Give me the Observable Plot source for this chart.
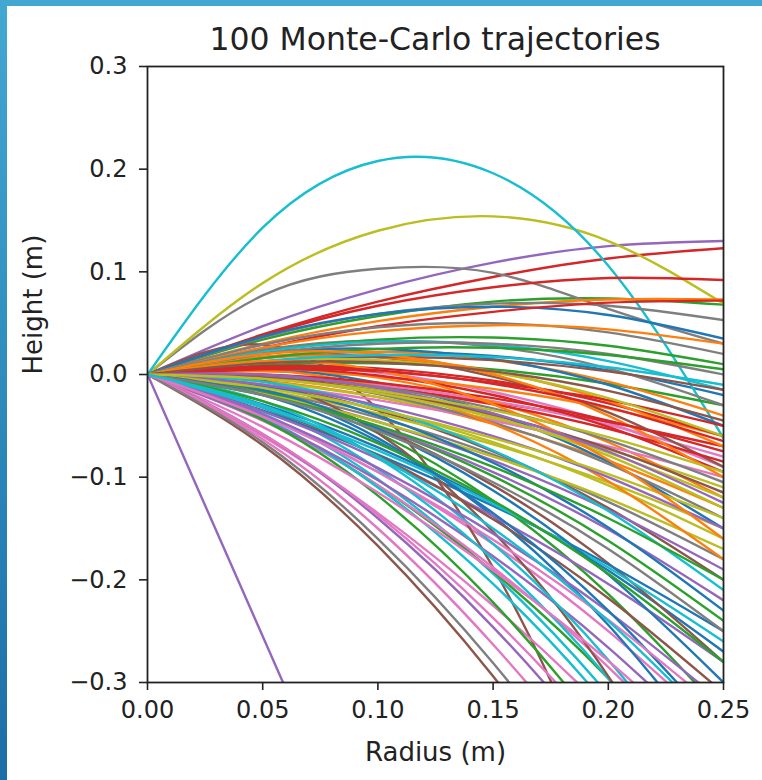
<!DOCTYPE html>
<html><head><meta charset="utf-8">
<script src="https://cdn.jsdelivr.net/npm/d3@7"></script>
<script src="https://cdn.jsdelivr.net/npm/@observablehq/plot@0.6"></script>
<style>
html,body{margin:0;padding:0;background:#fff;}
#page{position:relative;width:762px;height:780px;overflow:hidden;background:#fff;font-family:"DejaVu Sans",sans-serif;}
#topbar{position:absolute;left:0;top:0;width:762px;height:6px;background:#42a8d2;}
#leftbar{position:absolute;left:0;top:0;width:7px;height:780px;background:linear-gradient(#42a8d2,#1b6ea6);}
#title{height:33px;padding-top:24px;padding-left:108px;text-align:center;font-size:31.5px;line-height:30px;color:#222;white-space:nowrap;}
#chart svg{display:block;}
</style></head>
<body><div id="page"><div id="title">100 Monte-Carlo trajectories</div><div id="chart"></div><div id="topbar"></div><div id="leftbar"></div></div>
<script>
// Radii (m) at which each trajectory's height was read; every trajectory starts at the origin
const radii = [0, 0.05, 0.10, 0.15, 0.20, 0.25];
const launchHeight = 0;
// Heights (m) of the 100 trajectories, in plotting order, at each radius
const hAt005 = [
  0.016, -0.006, 0.034, 0.039, 0.047, -0.010, -0.040, 0.077, 0.089, 0.143,
  -0.029, 0.030, -0.018, 0.038, -0.255, 0.029, 0.007, 0.036, -0.015, -0.038,
  0.037, 0.003, -0.044, 0.026, -0.018, -0.069, -0.045, 0.029, -0.007, -0.042,
  0.005, 0.026, 0.009, -0.004, -0.044, -0.016, -0.001, 0.024, -0.012, -0.032,
  -0.016, 0.006, 0.022, 0.008, -0.019, 0.017, -0.060, -0.016, -0.001, 0.022,
  -0.035, 0.017, -0.016, -0.002, -0.036, -0.006, -0.010, -0.003, -0.019, -0.026,
  0.020, 0.004, -0.044, 0.006, -0.039, -0.032, -0.051, 0.020, -0.004, -0.007,
  -0.011, 0.016, 0.016, 0.005, -0.058, 0.012, -0.063, -0.001, 0.013, -0.032,
  -0.015, 0.020, -0.020, 0.000, -0.010, -0.003, -0.058, -0.066, -0.013, 0.013,
  -0.020, 0.013, -0.026, 0.007, 0.000, 0.011, -0.041, -0.020, -0.004, -0.030
];
const hAt010 = [
  0.022, -0.022, 0.057, 0.071, 0.083, -0.035, -0.095, 0.103, 0.140, 0.208,
  -0.071, 0.052, -0.051, 0.067, -0.510, -0.034, 0.002, 0.059, -0.038, -0.102,
  0.059, -0.002, -0.108, 0.047, -0.046, -0.167, -0.108, 0.046, -0.022, -0.110,
  -0.008, 0.042, 0.011, -0.013, -0.103, -0.052, -0.010, 0.033, -0.034, -0.092,
  -0.062, -0.003, 0.034, 0.006, -0.051, 0.017, -0.135, -0.042, -0.015, 0.032,
  -0.078, 0.022, -0.057, -0.012, -0.082, -0.057, -0.025, -0.019, -0.046, -0.081,
  0.025, -0.012, -0.118, -0.001, -0.091, -0.079, -0.115, 0.030, -0.018, -0.032,
  -0.040, 0.017, 0.025, 0.003, -0.140, 0.017, -0.150, -0.012, 0.014, -0.074,
  -0.053, 0.020, -0.050, -0.008, -0.030, -0.016, -0.137, -0.160, -0.034, 0.019,
  -0.065, 0.004, -0.067, 0.004, -0.013, 0.012, -0.095, -0.055, -0.016, -0.080
];
const hAt015 = [
  0.018, -0.048, 0.071, 0.095, 0.109, -0.075, -0.165, 0.099, 0.154, 0.196,
  -0.125, 0.066, -0.099, 0.085, -0.765, -0.188, -0.017, 0.069, -0.068, -0.194,
  0.066, -0.014, -0.192, 0.061, -0.084, -0.294, -0.188, 0.050, -0.044, -0.204,
  -0.038, 0.048, 0.005, -0.027, -0.177, -0.108, -0.026, 0.027, -0.066, -0.180,
  -0.138, -0.027, 0.036, -0.006, -0.095, -0.002, -0.225, -0.078, -0.041, 0.029,
  -0.128, 0.014, -0.123, -0.029, -0.138, -0.153, -0.045, -0.047, -0.080, -0.165,
  0.015, -0.048, -0.222, -0.020, -0.155, -0.141, -0.191, 0.030, -0.042, -0.074,
  -0.086, 0.003, 0.026, -0.008, -0.246, 0.014, -0.263, -0.033, 0.002, -0.126,
  -0.113, 0.000, -0.090, -0.023, -0.060, -0.039, -0.237, -0.281, -0.062, 0.017,
  -0.135, -0.029, -0.123, -0.009, -0.038, 0.003, -0.161, -0.105, -0.035, -0.150
];
const hAt020 = [
  0.004, -0.084, 0.074, 0.113, 0.125, -0.130, -0.250, 0.064, 0.130, 0.106,
  -0.191, 0.073, -0.162, 0.094, -1.020, -0.434, -0.047, 0.067, -0.105, -0.312,
  0.058, -0.033, -0.296, 0.070, -0.132, -0.450, -0.285, 0.041, -0.073, -0.324,
  -0.085, 0.044, -0.009, -0.046, -0.266, -0.184, -0.049, 0.006, -0.108, -0.296,
  -0.244, -0.066, 0.028, -0.028, -0.151, -0.037, -0.330, -0.124, -0.079, 0.013,
  -0.185, -0.007, -0.214, -0.053, -0.204, -0.294, -0.070, -0.087, -0.121, -0.278,
  -0.010, -0.104, -0.356, -0.051, -0.231, -0.218, -0.279, 0.020, -0.076, -0.133,
  -0.149, -0.026, 0.019, -0.025, -0.376, 0.003, -0.400, -0.064, -0.023, -0.188,
  -0.195, -0.040, -0.140, -0.045, -0.100, -0.072, -0.358, -0.430, -0.097, 0.007,
  -0.230, -0.083, -0.194, -0.032, -0.075, -0.016, -0.239, -0.170, -0.061, -0.240
];
const hAt025 = [
  -0.020, -0.130, 0.068, 0.123, 0.130, -0.200, -0.350, 0.030, 0.069, -0.062,
  -0.270, 0.073, -0.240, 0.092, -1.275, -0.771, -0.090, 0.053, -0.150, -0.458,
  0.035, -0.060, -0.420, 0.072, -0.190, -0.635, -0.400, 0.020, -0.110, -0.470,
  -0.150, 0.030, -0.030, -0.070, -0.370, -0.280, -0.080, -0.030, -0.160, -0.440,
  -0.380, -0.120, 0.010, -0.060, -0.220, -0.090, -0.450, -0.180, -0.130, -0.015,
  -0.250, -0.040, -0.330, -0.085, -0.280, -0.480, -0.100, -0.140, -0.170, -0.420,
  -0.050, -0.180, -0.520, -0.095, -0.320, -0.310, -0.380, 0.000, -0.120, -0.210,
  -0.230, -0.070, 0.005, -0.050, -0.530, -0.015, -0.563, -0.105, -0.060, -0.260,
  -0.300, -0.100, -0.200, -0.075, -0.150, -0.115, -0.500, -0.606, -0.140, -0.010,
  -0.350, -0.160, -0.280, -0.065, -0.125, -0.045, -0.330, -0.250, -0.095, -0.350
];
const radiusTicks = [0, 0.05, 0.10, 0.15, 0.20, 0.25];
const heightTicks = [-0.3, -0.2, -0.1, 0.0, 0.1, 0.2, 0.3];
const palette = ["#1f77b4", "#ff7f0e", "#2ca02c", "#d62728", "#9467bd",
                 "#8c564b", "#e377c2", "#7f7f7f", "#bcbd22", "#17becf"];

const columns = [hAt005, hAt010, hAt015, hAt020, hAt025];
const rows = [];
for (let i = 0; i < hAt005.length; i++) {
  rows.push({traj: i, r: radii[0], h: launchHeight});
  columns.forEach((col, j) => rows.push({traj: i, r: radii[j + 1], h: col[i]}));
}

const chart = Plot.plot({
  width: 762,
  height: 722,
  marginTop: 9,
  marginBottom: 97,
  marginLeft: 147,
  marginRight: 39,
  style: {fontFamily: "DejaVu Sans", fontSize: "24px", color: "#222", background: "transparent", overflow: "visible"},
  x: {domain: [0, 0.25]},
  y: {domain: [-0.3, 0.3]},
  color: {type: "ordinal", domain: d3.range(10), range: palette},
  marks: [
    Plot.line(rows, {x: "r", y: "h", z: "traj", stroke: d => d.traj % 10, strokeWidth: 2.4, curve: "natural", clip: true}),
    Plot.frame({stroke: "#222", strokeWidth: 1.8}),
    Plot.axisX({ticks: radiusTicks, tickFormat: d3.format(".2f"), tickSize: 8, tickPadding: 10, label: null, fontSize: 24, strokeWidth: 1.6}),
    Plot.axisY({ticks: heightTicks, tickFormat: d3.format(".1f"), tickSize: 8, tickPadding: 12, label: null, fontSize: 24, strokeWidth: 1.6}),
    Plot.text(["Radius (m)"], {frameAnchor: "bottom", dy: 78, text: d => d, fontSize: 26, lineAnchor: "bottom", fill: "#222"}),
    Plot.text(["Height (m)"], {frameAnchor: "left", dx: -114, text: d => d, fontSize: 26, rotate: -90, lineAnchor: "middle", fill: "#222"})
  ]
});
document.getElementById("chart").appendChild(chart);
</script>
</body></html>
